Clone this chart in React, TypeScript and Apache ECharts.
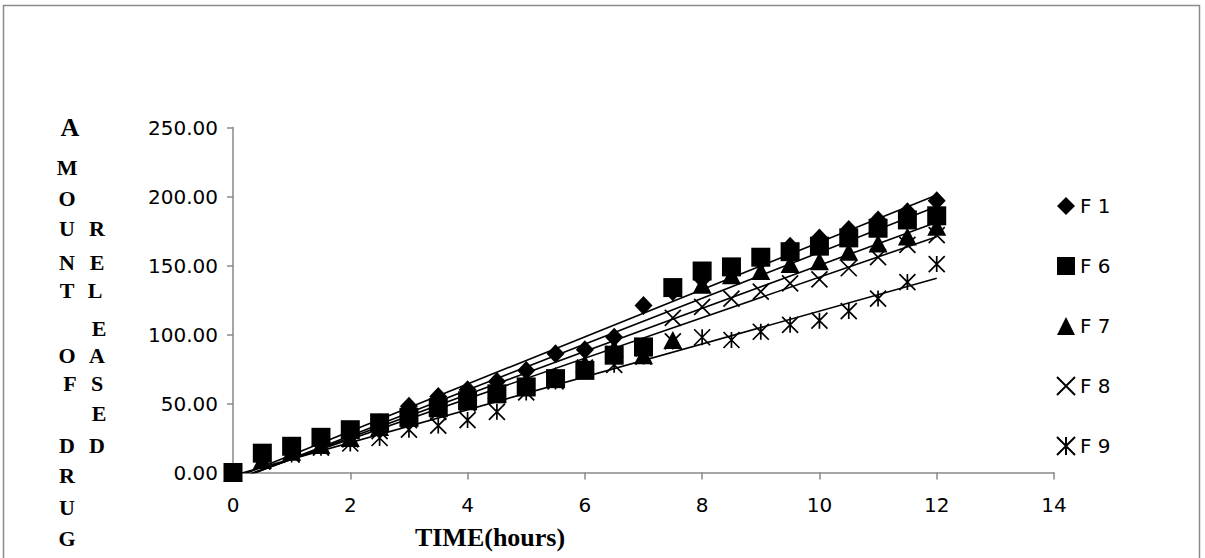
import React, { useEffect, useRef } from "react";
import * as echarts from "echarts";

// time points (hours)
const times = [0, 0.5, 1, 1.5, 2, 2.5, 3, 3.5, 4, 4.5, 5, 5.5, 6, 6.5, 7, 7.5, 8, 8.5, 9, 9.5, 10, 10.5, 11, 11.5, 12];

const seriesNames = ["F 1", "F 6", "F 7", "F 8", "F 9"];

const f1 = [0, 10, 16, 22, 28, 36, 48, 55, 60, 66, 74, 86, 89, 98, 121, 131, 140, 146, 153, 164, 170, 176, 183, 189, 197];
const f6 = [0, 14, 19, 25.5, 31, 36, 40, 47, 52, 57, 62, 68, 74, 85, 91, 134, 146, 149, 156, 160, 164, 170, 177, 183, 186];
const f7 = [0, 9, 15, 20, 25, 33, 40, 48, 54, 60, 66, 70, 79, 90, 85, 96, 136, 143, 146, 151, 153, 160, 166, 171, 178];
const f8 = [0, 8, 14, 19, 24, 30, 38, 44, 50, 56, 62, 67, 76, 86, 90, 112, 120, 126, 131, 137, 140, 148, 156, 165, 172];
const f9 = [0, 8, 13, 18, 21, 25, 31, 34, 38, 44, 58, 66, 74, 78, 84, 95, 98, 96, 102, 107, 110, 117, 126, 138, 151];

const xTickMin = 0;
const xTickMax = 14;
const xTickStep = 2;
const yTickMin = 0;
const yTickMax = 250;
const yTickStep = 50;

const yTitleCol1 = "AMOUNT OF DRUG";
const yTitleCol2 = "RELEASED";
const xTitle = "TIME(hours)";

const allValues = [f1, f6, f7, f8, f9];

const symbols = [
  "diamond",
  "rect",
  "triangle",
  "path://M0,0L10,10M10,0L0,10",
  "path://M0,0L10,10M10,0L0,10M5,0L5,10",
];
const symbolSizes: any[] = [[18, 19], 19, [19, 18], 16, 16];
const stroked = [false, false, false, true, true];

function regression(xs: number[], ys: number[]) {
  const n = xs.length;
  let sx = 0, sy = 0, sxx = 0, sxy = 0;
  for (let i = 0; i < n; i++) {
    sx += xs[i]; sy += ys[i]; sxx += xs[i] * xs[i]; sxy += xs[i] * ys[i];
  }
  const m = (n * sxy - sx * sy) / (n * sxx - sx * sx);
  const b = (sy - m * sx) / n;
  return { m, b };
}

export default function App() {
  const ref = useRef<HTMLDivElement>(null);
  useEffect(() => {
    if (!ref.current) return;
    const chart = echarts.init(ref.current, null, { renderer: "svg" });

    const scatterSeries = seriesNames.map((name, k) => ({
      name,
      type: "scatter",
      symbol: symbols[k],
      symbolSize: symbolSizes[k],
      data: times.map((t, i) => [t, allValues[k][i]]),
      itemStyle: stroked[k]
        ? { color: "rgba(0,0,0,0)", borderColor: "#000", borderWidth: 1.7, opacity: 1 }
        : { color: "#000", borderColor: "#000", borderWidth: 0, opacity: 1 },
      z: 3,
    }));

    const trendSeries = seriesNames.map((name, k) => {
      const { m, b } = regression(times, allValues[k]);
      const t0 = times[0];
      const t1 = times[times.length - 1];
      return {
        name: name + " trend",
        type: "line",
        symbol: "none",
        silent: true,
        data: [
          [t0, b + m * t0],
          [t1, b + m * t1],
        ],
        lineStyle: { color: "#000", width: 1.6 },
        z: 4,
      };
    });

    const letterEls: any[] = [];
    const col1Y = [127, 167, 198, 228, 262, 290, 0, 355, 383, 0, 445, 475, 507, 538];
    const col1X = [70, 67, 67, 67, 67, 67, 0, 67, 70, 0, 67, 67, 67, 67];
    yTitleCol1.split("").forEach((ch, i) => {
      if (ch === " ") return;
      letterEls.push({
        type: "text",
        x: col1X[i],
        y: col1Y[i],
        style: {
          text: ch,
          font: i === 0 ? "bold 26px 'Liberation Serif'" : "bold 22px 'Liberation Serif'",
          fill: "#000",
          align: "center",
          verticalAlign: "middle",
        },
      });
    });
    const col2Y = [228, 262, 290, 328, 355, 383, 413, 445];
    const col2X = [97, 97, 95, 99, 97, 97, 99, 97];
    yTitleCol2.split("").forEach((ch, i) => {
      letterEls.push({
        type: "text",
        x: col2X[i],
        y: col2Y[i],
        style: {
          text: ch,
          font: "bold 22px 'Liberation Serif'",
          fill: "#000",
          align: "center",
          verticalAlign: "middle",
        },
      });
    });

    chart.setOption({
      animation: false,
      backgroundColor: "#fff",
      grid: { left: 233, right: 151, top: 127.5, bottom: 85.5, containLabel: false },
      legend: {
        orient: "vertical",
        left: 1051,
        top: 191,
        itemWidth: 18,
        itemHeight: 18,
        itemGap: 40,
        data: seriesNames.map((n, k) => ({ name: n, icon: symbols[k] })),
        textStyle: { fontFamily: "DejaVu Sans", fontSize: 20, color: "#000", padding: [0, 0, 0, 0] },
      },
      xAxis: {
        type: "value",
        min: xTickMin,
        max: xTickMax,
        interval: xTickStep,
        axisLine: { lineStyle: { color: "#888", width: 1.5 } },
        axisTick: { show: true, length: 7, lineStyle: { color: "#888", width: 1.5 } },
        axisLabel: { fontFamily: "DejaVu Sans", fontSize: 20, color: "#000", margin: 22 },
        splitLine: { show: false },
      },
      yAxis: {
        type: "value",
        min: yTickMin,
        max: yTickMax,
        interval: yTickStep,
        axisLine: { show: true, lineStyle: { color: "#888", width: 1.5 } },
        axisTick: { show: true, length: 6, lineStyle: { color: "#888", width: 1.5 } },
        axisLabel: {
          fontFamily: "DejaVu Sans",
          fontSize: 20,
          color: "#000",
          margin: 15,
          formatter: (v: number) => v.toFixed(2),
        },
        splitLine: { show: false },
      },
      graphic: [
        {
          type: "rect",
          shape: { x: 3.5, y: 5.5, width: 1196, height: 600 },
          style: { fill: "none", stroke: "#8a8a8a", lineWidth: 1.5 },
          z: -1,
        },
        {
          type: "text",
          x: 490,
          y: 537,
          style: {
            text: xTitle,
            font: "bold 26px 'Liberation Serif'",
            fill: "#000",
            align: "center",
            verticalAlign: "middle",
          },
        },
        ...letterEls,
      ],
      series: [...trendSeries, ...scatterSeries],
    });
    return () => chart.dispose();
  }, []);
  return (
    <div
      ref={ref}
      style={{ position: "fixed", left: 0, top: 0, width: 1205, height: 558, background: "#fff" }}
    />
  );
}
